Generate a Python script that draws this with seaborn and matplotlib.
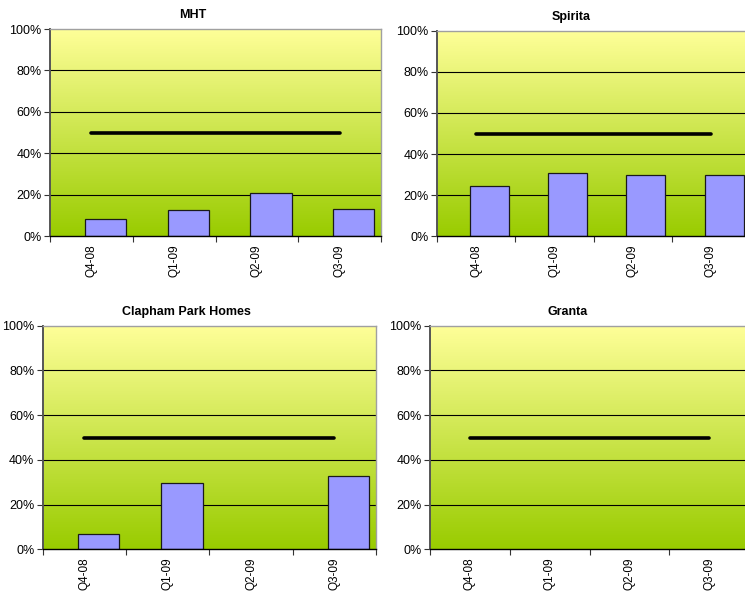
import numpy as np
import pandas as pd
import matplotlib
matplotlib.use("Agg")
import matplotlib.pyplot as plt
from matplotlib.colors import LinearSegmentedColormap
import seaborn as sns

# data (percent)
QUARTERS = ["Q4-08", "Q1-09", "Q2-09", "Q3-09"]
TITLES = ["MHT", "Spirita", "Clapham Park Homes", "Granta"]
MHT = [8.3, 12.5, 20.9, 13.0]
SPIRITA = [24.6, 31.0, 30.0, 30.0]
CLAPHAM = [6.7, 29.8, np.nan, 32.6]
GRANTA = [np.nan, np.nan, np.nan, np.nan]
TARGET = [50, 50, 50, 50]
Y_TICKS = [0, 20, 40, 60, 80, 100]

BAR_COLOR = "#9999FF"
BG_CMAP = LinearSegmentedColormap.from_list("bg", ["#99CC00", "#FFFF99"])
BAR_OFFSET = 0.17  # Excel draws the bars right of the category centre

W, H = 745, 596
# plot areas in pixels: left, top, right, bottom
RECTS = [
    (50, 29, 381, 236.3),
    (437, 30.7, 750, 236.3),
    (42.7, 325.7, 376, 549.3),
    (430, 325.7, 749, 549.3),
]

sns.set_theme(style="white")
plt.rcParams["font.family"] = ["Liberation Sans", "DejaVu Sans"]
plt.rcParams["text.color"] = "black"
plt.rcParams["xtick.labelcolor"] = "black"
plt.rcParams["ytick.labelcolor"] = "black"

fig = plt.figure(figsize=(W / 100, H / 100), dpi=100)

series = [MHT, SPIRITA, CLAPHAM, GRANTA]
for title, values, (l, t, r, b) in zip(TITLES, series, RECTS):
    ax = fig.add_axes([l / W, (H - b) / H, (r - l) / W, (b - t) / H])

    grad = np.linspace(1, 0, 256)[:, None]
    ax.imshow(grad, cmap=BG_CMAP, aspect="auto", extent=[0, 1, 0, 1],
              transform=ax.transAxes, zorder=0)

    df = pd.DataFrame({"pos": np.arange(len(QUARTERS)) + BAR_OFFSET, "value": values})
    df = df.dropna()
    if len(df):
        sns.barplot(data=df, x="pos", y="value", native_scale=True, orient="x",
                    width=0.5, color=BAR_COLOR, saturation=1, errorbar=None,
                    edgecolor="#1a1a1a", linewidth=0.9, ax=ax, zorder=2)

    sns.lineplot(x=np.arange(len(QUARTERS)), y=TARGET, color="black", linewidth=2.6,
                 solid_capstyle="round", ax=ax, zorder=4)

    ax.set_xlim(-0.5, len(QUARTERS) - 0.5)
    ax.set_ylim(0, 100)

    for yv in Y_TICKS[1:-1]:
        ax.axhline(yv, color="black", linewidth=0.8, zorder=1)

    ax.set_yticks(Y_TICKS)
    ax.set_yticklabels([f"{v}%" for v in Y_TICKS], fontsize=9)
    ax.set_xticks(np.arange(len(QUARTERS) + 1) - 0.5)
    ax.set_xticklabels([])
    ax.set_xticks(np.arange(len(QUARTERS)), minor=True)
    ax.set_xticklabels(QUARTERS, minor=True, rotation=90, fontsize=8.5)
    ax.tick_params(axis="x", which="major", direction="out", length=4, width=0.8,
                   color="#333333", bottom=True)
    ax.tick_params(axis="x", which="minor", length=0, pad=6)
    ax.tick_params(axis="y", direction="out", length=4, width=0.8, color="#333333",
                   left=True, pad=2)
    ax.set_xlabel("")
    ax.set_ylabel("")

    ax.spines["left"].set_color("#555555")
    ax.spines["left"].set_linewidth(1.4)
    ax.spines["bottom"].set_color("black")
    ax.spines["bottom"].set_linewidth(1.0)
    for side in ("top", "right"):
        ax.spines[side].set_color("#A0A0A0")
        ax.spines[side].set_linewidth(1.0)

    ax.set_title(title, x=0.43, fontsize=9, fontweight="bold", pad=8, color="black")

fig.savefig("out.png", dpi=100)
